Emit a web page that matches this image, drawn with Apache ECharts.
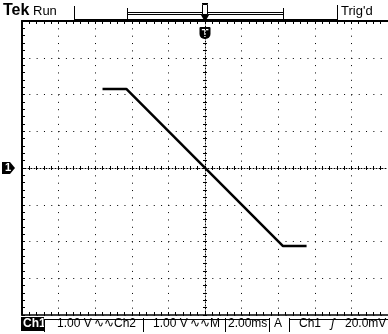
<!DOCTYPE html>
<html>
<head>
<meta charset="utf-8">
<script src="https://cdn.jsdelivr.net/npm/echarts@6/dist/echarts.min.js"></script>
<style>
  html, body { margin: 0; padding: 0; background: #fff; }
  #chart { width: 388px; height: 334px; }
</style>
</head>
<body>
<div id="chart"></div>
<script>
// trace: time in ms, level in V (2.00ms/div, 1.00 V/div)
const timeMs = [-5.6, -4.3, 4.25, 5.55]
const volts = [2.15, 2.15, -2.12, -2.12]
// graticule: 10 x 8 divisions
const timeRange = [-10, 10]
const voltRange = [-4, 4]
const timePerDiv = 2
const voltPerDiv = 1
const triggerTime = 0
const ch1Offset = 0

const topTexts = ['Tek', 'Run', "Trig'd"]
const bottomTexts = ['Ch1', '1.00 V', '\u223f\u223fCh2', '1.00 V', '\u223f\u223fM', '2.00ms', 'A', 'Ch1', '\u0283', '20.0mV']

const chart = echarts.init(document.getElementById('chart'))
const INK = '#000'
const FONT = '"Liberation Sans", Arial, sans-serif'

function timeAxis(extra) {
  return Object.assign({
    type: 'value', min: timeRange[0], max: timeRange[1], interval: timePerDiv,
    axisLabel: { show: false },
    splitLine: { show: false },
    axisTick: { show: true, inside: true, length: 3, lineStyle: { color: INK } },
    minorTick: { show: true, splitNumber: 5, length: 3, lineStyle: { color: INK } }
  }, extra)
}
function voltAxis(extra) {
  return Object.assign({
    type: 'value', min: voltRange[0], max: voltRange[1], interval: voltPerDiv,
    axisLabel: { show: false },
    splitLine: { show: false },
    axisTick: { show: true, inside: true, length: 3, lineStyle: { color: INK } },
    minorTick: { show: true, splitNumber: 5, length: 3, lineStyle: { color: INK } }
  }, extra)
}

chart.setOption({
  animation: false,
  backgroundColor: '#fff',
  grid: { left: 22, top: 21, right: 0, bottom: 19, containLabel: false },
  xAxis: [
    timeAxis({
      position: 'bottom',
      axisLine: { onZero: false, lineStyle: { color: INK, width: 1.5 } },
      splitLine: { show: true, lineStyle: { color: INK, width: 1, type: [1, 6.35] } }
    }),
    timeAxis({ position: 'top', axisLine: { onZero: false, lineStyle: { color: INK, width: 2 } } }),
    timeAxis({
      position: 'bottom',
      axisLine: { onZero: true, lineStyle: { color: INK, width: 1, type: [1, 2] } },
      axisTick: { show: true, inside: true, length: 2, lineStyle: { color: INK } },
      minorTick: { show: true, splitNumber: 5, length: 2, lineStyle: { color: INK } }
    }),
    timeAxis({
      position: 'bottom',
      axisLine: { show: false, onZero: true },
      axisTick: { show: true, inside: false, length: 2, lineStyle: { color: INK } },
      minorTick: { show: true, splitNumber: 5, length: 2, lineStyle: { color: INK } }
    })
  ],
  yAxis: [
    voltAxis({
      position: 'left',
      axisLine: { onZero: false, lineStyle: { color: INK, width: 2 } },
      splitLine: { show: true, lineStyle: { color: INK, width: 1, type: [1, 6.32] } }
    }),
    voltAxis({
      position: 'left',
      axisLine: { onZero: true, lineStyle: { color: INK, width: 1, type: [1, 2] } },
      axisTick: { show: true, inside: true, length: 2, lineStyle: { color: INK } },
      minorTick: { show: true, splitNumber: 5, length: 2, lineStyle: { color: INK } }
    }),
    voltAxis({
      position: 'left',
      axisLine: { show: false, onZero: true },
      axisTick: { show: true, inside: false, length: 2, lineStyle: { color: INK } },
      minorTick: { show: true, splitNumber: 5, length: 2, lineStyle: { color: INK } }
    })
  ],
  series: [{
    type: 'line',
    xAxisIndex: 0,
    yAxisIndex: 0,
    showSymbol: false,
    lineStyle: { color: INK, width: 2.5 },
    data: timeMs.map((t, i) => [t, volts[i]])
  }]
})

// screen furniture: readouts and markers
const tx = chart.convertToPixel({ xAxisIndex: 0 }, triggerTime)
const gy = chart.convertToPixel({ yAxisIndex: 0 }, ch1Offset)
const line = (x1, y1, x2, y2, w) => ({ type: 'line', shape: { x1, y1, x2, y2 }, style: { stroke: INK, lineWidth: w || 1 } })
const text = (x, y, s, font, fill) => ({ type: 'text', x, y, style: { text: s, font, fill: fill || INK, textVerticalAlign: 'top' } })
const BOT = '12px ' + FONT

chart.setOption({
  graphic: [
    text(3, 3, topTexts[0], 'bold 16px ' + FONT),
    text(33, 5, topTexts[1], '13px ' + FONT),
    line(74.5, 6, 74.5, 19),
    line(74, 19.5, 338, 19.5),
    line(127.5, 8, 127.5, 19),
    line(283.5, 8, 283.5, 19),
    { type: 'rect', shape: { x: 127.5, y: 12.5, width: 156, height: 2 }, style: { fill: null, stroke: INK, lineWidth: 1 } },
    line(337.5, 5, 337.5, 19),
    text(341, 5, topTexts[2], '13px ' + FONT),
    // trigger position arrow
    { type: 'rect', shape: { x: tx - 2.5, y: 4.5, width: 5, height: 10 }, style: { fill: '#fff', stroke: INK, lineWidth: 1 } },
    line(tx - 3, 3.5, tx + 3, 3.5),
    { type: 'polygon', shape: { points: [[tx - 4, 15], [tx + 4, 15], [tx, 22]] }, style: { fill: INK } },
    // trigger marker under the top edge
    { type: 'rect', shape: { x: tx - 5.5, y: 27, width: 11, height: 12, r: [1, 1, 5, 5] }, style: { fill: INK } },
    { type: 'text', x: tx, y: 28, style: { text: 'T', font: 'bold 11px ' + FONT, fill: '#fff', align: 'center', textVerticalAlign: 'top' } },
    // channel 1 ground marker
    { type: 'polygon', shape: { points: [[2, gy - 6], [10, gy - 6], [15, gy], [10, gy + 6], [2, gy + 6]] }, style: { fill: INK } },
    { type: 'text', x: 8, y: gy - 6, style: { text: '1', font: 'bold 11px ' + FONT, fill: '#fff', align: 'center', textVerticalAlign: 'top' } },
    // bottom readout
    { type: 'rect', shape: { x: 21, y: 317, width: 23, height: 14 }, style: { fill: INK } },
    text(23, 318, bottomTexts[0], 'bold 12px ' + FONT, '#fff'),
    line(44, 319.5, 143, 319.5),
    line(44.5, 319, 44.5, 332),
    text(57, 318, bottomTexts[1], BOT),
    text(94, 318, bottomTexts[2], BOT),
    line(143.5, 318, 143.5, 332),
    line(143, 319.5, 225, 319.5),
    text(153, 318, bottomTexts[3], BOT),
    text(190, 318, bottomTexts[4], BOT),
    line(225.5, 318, 225.5, 332),
    line(225, 319.5, 269, 319.5),
    text(228, 318, bottomTexts[5], BOT),
    line(269.5, 318, 269.5, 332),
    text(274, 318, bottomTexts[6], BOT),
    line(289.5, 318, 289.5, 332),
    line(289, 319.5, 388, 319.5),
    text(299, 318, bottomTexts[7], BOT),
    text(331, 318, bottomTexts[8], 'italic ' + BOT),
    text(345, 318, bottomTexts[9], BOT)
  ]
})
</script>
</body>
</html>
